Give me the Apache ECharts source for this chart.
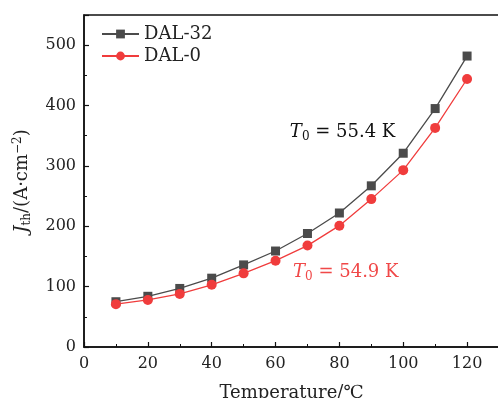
<!DOCTYPE html>
<html>
<head>
<meta charset="utf-8">
<script src="https://cdn.jsdelivr.net/npm/echarts@6/dist/echarts.min.js"></script>
<style>
  html, body { margin: 0; padding: 0; background: #fff; }
  #chart { width: 498px; height: 398px; }
</style>
</head>
<body>
<div id="chart"></div>
<script>
const temps = [10, 20, 30, 40, 50, 60, 70, 80, 90, 100, 110, 120]
const dal32 = [75, 84, 97, 114, 136, 159, 188, 222, 267, 321, 395, 482]
const dal0 = [71, 78, 88, 103, 122, 143, 168, 201, 245, 293, 363, 444]

const FONT = 'DejaVu Serif'
const GRAY = '#4b4b4b'
const RED = '#f03c3c'

const axisCommon = {
  axisLine: { onZero: false, lineStyle: { color: '#111', width: 1.5 } },
  axisTick: { inside: true, length: 5, lineStyle: { color: '#111', width: 1.2 } },
  minorTick: { show: true, splitNumber: 2, length: 3, lineStyle: { color: '#111', width: 1 } },
  splitLine: { show: false },
  axisLabel: { color: '#222', fontFamily: FONT, fontSize: 16 },
}

const t0Label = (val, color) => ({
  show: true,
  formatter: '{i|T}{s|0}{n| = ' + val + ' K}',
  rich: {
    i: { fontFamily: FONT, fontStyle: 'italic', fontSize: 18, color },
    s: { fontFamily: FONT, fontSize: 12, color, padding: [9, 0, 0, 0] },
    n: { fontFamily: FONT, fontSize: 18, color },
  },
})

const chart = echarts.init(document.getElementById('chart'))
chart.setOption({
  animation: false,
  grid: {
    left: 84, top: 15, right: -1, bottom: 51,
    outerBoundsMode: 'none', containLabel: false,
    show: true, borderColor: '#111', borderWidth: 1.5,
  },
  legend: {
    left: 96, top: 20, orient: 'vertical', itemGap: 4,
    itemWidth: 37, itemHeight: 11,
    textStyle: { fontFamily: FONT, fontSize: 18, color: '#222' },
    data: ['DAL-32', 'DAL-0'],
  },
  xAxis: {
    ...axisCommon,
    type: 'value', min: 0, max: 130, interval: 20,
    axisLabel: { ...axisCommon.axisLabel, margin: 9, showMaxLabel: false },
    name: 'Temperature/℃', nameLocation: 'middle', nameGap: 37,
    nameTextStyle: { fontFamily: FONT, fontSize: 18, color: '#222' },
  },
  yAxis: {
    ...axisCommon,
    type: 'value', min: 0, max: 550, interval: 100,
    axisLabel: { ...axisCommon.axisLabel, margin: 8, showMaxLabel: false },
    name: '{i|J}{s|th}{n|/(A·cm}{p|−2}{n|)}',
    nameLocation: 'middle', nameGap: 51, nameRotate: 90,
    nameTextStyle: {
      rich: {
        i: { fontFamily: FONT, fontStyle: 'italic', fontSize: 18, color: '#222' },
        s: { fontFamily: FONT, fontSize: 12, color: '#222', padding: [9, 0, 0, 0] },
        n: { fontFamily: FONT, fontSize: 18, color: '#222' },
        p: { fontFamily: FONT, fontSize: 12, color: '#222', padding: [0, 0, 9, 0] },
      },
    },
  },
  series: [
    {
      name: 'DAL-32', type: 'line',
      data: temps.map((t, i) => [t, dal32[i]]),
      symbol: 'rect', symbolSize: 9,
      itemStyle: { color: GRAY },
      lineStyle: { color: GRAY, width: 1.3 },
      markPoint: {
        symbol: 'circle', symbolSize: 0,
        label: t0Label('55.4', '#111'),
        data: [{ coord: [81, 355] }],
      },
    },
    {
      name: 'DAL-0', type: 'line',
      data: temps.map((t, i) => [t, dal0[i]]),
      symbol: 'circle', symbolSize: 10,
      itemStyle: { color: RED },
      lineStyle: { color: RED, width: 1.3 },
      markPoint: {
        symbol: 'circle', symbolSize: 0,
        label: t0Label('54.9', '#f04848'),
        data: [{ coord: [82, 123] }],
      },
    },
  ],
})
</script>
</body>
</html>
